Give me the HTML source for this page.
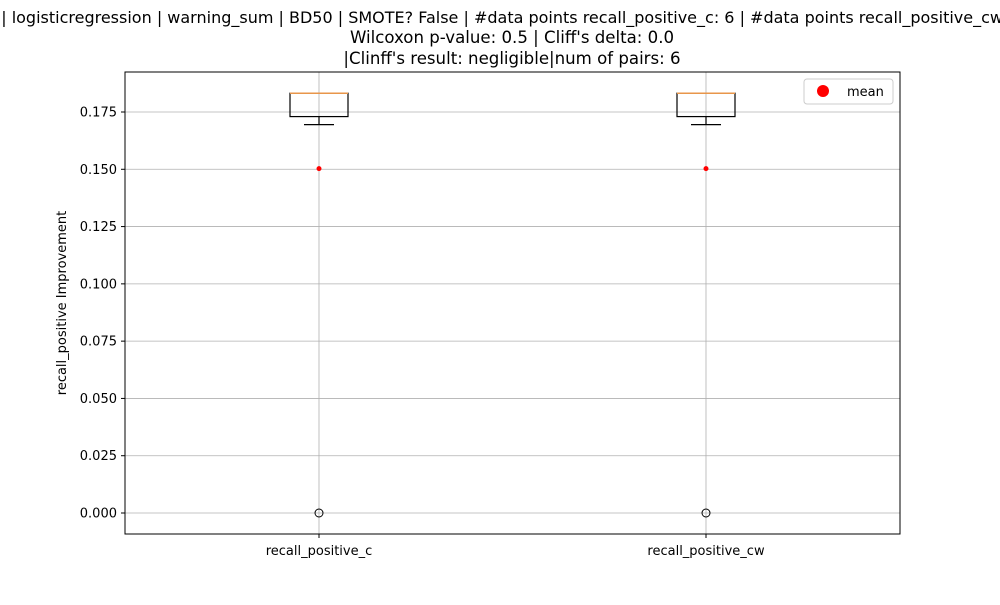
<!DOCTYPE html>
<html><head><meta charset="utf-8"><style>
body{margin:0;background:#fff;font-family:"Liberation Sans","DejaVu Sans",sans-serif;}
</style></head><body>
<svg id="chart" width="1000" height="600" xmlns="http://www.w3.org/2000/svg" font-family="DejaVu Sans, Liberation Sans, sans-serif">
<text x="512" y="23" font-size="16" text-anchor="middle">| logisticregression | warning_sum | BD50 | SMOTE? False | #data points recall_positive_c: 6 | #data points recall_positive_cw: 6</text>
<text x="512" y="43" font-size="16.6" text-anchor="middle">Wilcoxon p-value: 0.5 | Cliff's delta: 0.0</text>
<text x="512" y="64" font-size="16.6" text-anchor="middle">|Clinff's result: negligible|num of pairs: 6</text>
<g id="grid"></g>
<g id="marks"></g>
<rect x="125" y="72" width="775" height="462" fill="none" stroke="#000" stroke-width="1"/>
<g id="axes"></g>
<text transform="translate(66,303) rotate(-90)" font-size="13" text-anchor="middle">recall_positive Improvement</text>
<g>
<rect x="804" y="79" width="89" height="25" fill="#fff" stroke="#ccc" rx="3"/>
<circle cx="823" cy="91" r="6" fill="red"/>
<text x="847" y="96" font-size="13">mean</text>
</g>
</svg>
<script>
const categories=["recall_positive_c","recall_positive_cw"];
const whiskLow=[0.1695,0.1695];
const q1=[0.1730,0.1730];
const medians=[0.1832,0.1832];
const q3=[0.1832,0.1832];
const whiskHigh=[0.1832,0.1832];
const means=[0.1503,0.1503];
const outliers=[[0],[0]];
const yTicks=[0,0.025,0.05,0.075,0.1,0.125,0.15,0.175];
const NS="http://www.w3.org/2000/svg";
const y=v=>513-v*(401/0.175);
const x=i=>319+i*387;
function mk(p,t,a){const e=document.createElementNS(NS,t);for(const k in a)e.setAttribute(k,a[k]);p.appendChild(e);return e;}
const grid=document.getElementById('grid'),marks=document.getElementById('marks'),axes=document.getElementById('axes');
yTicks.forEach(t=>{
 const l=mk(grid,'line',{x1:125,x2:900,y1:y(t),y2:y(t),stroke:'#b0b0b0','stroke-width':0.8});
 
 
 mk(axes,'line',{x1:121,x2:125,y1:y(t),y2:y(t),stroke:'#000'});
 const tx=mk(axes,'text',{x:117,y:y(t)+4.5,'font-size':13,'text-anchor':'end'});
 tx.textContent=t.toFixed(3);
 
 
});
categories.forEach((c,i)=>{
 const cx=x(i);
 const g=mk(grid,'line',{x1:cx,x2:cx,y1:72,y2:534,stroke:'#b0b0b0','stroke-width':0.8});
 
 
 mk(axes,'line',{x1:cx,x2:cx,y1:534,y2:538,stroke:'#000'});
 const tx=mk(axes,'text',{x:cx,y:555,'font-size':13,'text-anchor':'middle'});
 tx.textContent=c;
 
 
 const b=mk(marks,'g',{});
 
 
 mk(b,'rect',{x:cx-29,y:y(q3[i]),width:58,height:y(q1[i])-y(q3[i]),fill:'none',stroke:'#000','stroke-width':1.2});
 mk(b,'line',{x1:cx,x2:cx,y1:y(q1[i]),y2:y(whiskLow[i]),stroke:'#000','stroke-width':1.2});
 mk(b,'line',{x1:cx-15,x2:cx+15,y1:y(whiskLow[i]),y2:y(whiskLow[i]),stroke:'#000','stroke-width':1.2});
 mk(b,'line',{x1:cx,x2:cx,y1:y(q3[i]),y2:y(whiskHigh[i]),stroke:'#000','stroke-width':1.2});
 mk(b,'line',{x1:cx-15,x2:cx+15,y1:y(whiskHigh[i]),y2:y(whiskHigh[i]),stroke:'#000','stroke-width':1.2});
 mk(b,'line',{x1:cx-29,x2:cx+29,y1:y(medians[i]),y2:y(medians[i]),stroke:'#e8964a','stroke-width':1.5});
 outliers[i].forEach(v=>{mk(b,'circle',{cx:cx,cy:y(v),r:4,fill:'none',stroke:'#000'});});
 const m=mk(marks,'circle',{cx:cx,cy:y(means[i]),r:2.5,fill:'red'});
 
 
});
</script>
</body></html>
